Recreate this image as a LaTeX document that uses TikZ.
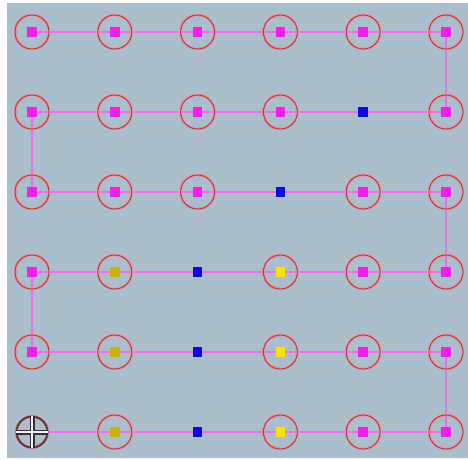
\documentclass[tikz,border=0pt]{standalone}
\usepackage{tikz}
\usetikzlibrary{positioning}
\definecolor{panel}{RGB}{170,190,204}
\definecolor{trackmag}{RGB}{232,112,228}
\definecolor{sqm}{RGB}{240,30,235}
\definecolor{sqb}{RGB}{10,10,225}
\definecolor{sqy}{RGB}{252,228,0}
\definecolor{sqo}{RGB}{200,178,10}
\definecolor{ringred}{RGB}{175,55,65}
\definecolor{ringpink}{RGB}{225,150,160}
\definecolor{crossdark}{RGB}{55,45,50}

\begin{document}
\begin{tikzpicture}[x=1pt, y=-1pt,
  ring/.style={circle, draw=ringred, line width=0.9pt, minimum size=34pt, inner sep=0pt,
               preaction={draw=ringpink, line width=2.8pt}},
  ringed/.style={label={[ring]center:}},
  sq/.style={rectangle, minimum size=9.5pt, inner sep=0pt},
  kind m/.style={sq, fill=sqm, ringed},
  kind o/.style={sq, fill=sqo, ringed},
  kind y/.style={sq, fill=sqy, ringed},
  kind b/.style={sq, fill=sqb},
  kind x/.style={circle, minimum size=31pt, inner sep=0pt, draw=crossdark, line width=1.1pt,
                 preaction={draw=ringred!80, line width=2.6pt}},
  track/.style={draw=trackmag, line width=2pt},
  crossbar/.style={draw=crossdark, line width=5pt},
  crosslight/.style={draw=white!85!panel, line width=1.4pt}]
% panel
\fill[white] (0,0) rectangle (468,459);
\fill[panel] (7,3) rectangle (468,458);
% grid points
\foreach \r in {1,...,6}
  \foreach \c in {1,...,6}
    \coordinate (p-\r-\c) at ({32+82.8*(\c-1)},{32+80*(\r-1)});
% serpentine track
\draw[track] (p-1-1) -- (p-1-6) -- (p-2-6) -- (p-2-1) -- (p-3-1) -- (p-3-6)
  -- (p-4-6) -- (p-4-1) -- (p-5-1) -- (p-5-6) -- (p-6-6) -- (p-6-1);
% cells
\foreach \r/\row in {1/{m,m,m,m,m,m}, 2/{m,m,m,m,b,m}, 3/{m,m,m,b,m,m},
                     4/{m,o,b,y,m,m}, 5/{m,o,b,y,m,m}, 6/{x,o,b,y,m,m}}
  \foreach \k [count=\c] in \row
    \node[kind \k] (sq-\r-\c) at (p-\r-\c) {};
% crosshair
\draw[crossbar] (sq-6-1.north) -- (sq-6-1.south);
\draw[crossbar] (sq-6-1.west) -- (sq-6-1.east);
\draw[crosslight] (sq-6-1.north) -- (sq-6-1.south);
\draw[crosslight] (sq-6-1.west) -- (sq-6-1.east);
\end{tikzpicture}
\end{document}
